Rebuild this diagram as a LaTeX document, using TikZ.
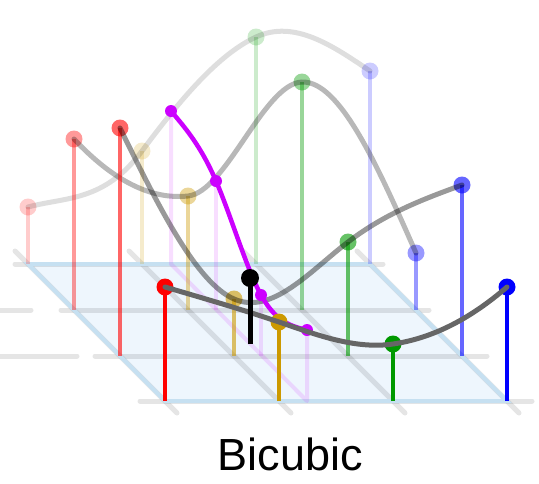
\documentclass[tikz,border=0pt]{standalone}
\usepackage{fontspec}
\setmainfont{Liberation Sans}
\definecolor{gridfill}{HTML}{EEF6FD}
\definecolor{gridedge}{HTML}{C6E0F1}
\definecolor{ptred}{HTML}{FF0000}
\definecolor{ptgold}{HTML}{CC9900}
\definecolor{ptgreen}{HTML}{009900}
\definecolor{ptblue}{HTML}{0000FF}
\definecolor{ptpurple}{HTML}{CC00FF}
\definecolor{curvegrey}{HTML}{666666}

\begin{document}
\begin{tikzpicture}[x=1pt,y=-1pt,
 gline/.style={line width=5pt,black,opacity=0.1,line cap=round},
 stem/.style={line width=4pt},
 dot/.style={circle,inner sep=0pt,minimum size=17pt},
 pdot/.style={circle,inner sep=0pt,minimum size=12pt,fill=ptpurple},
 spline/.style={line width=5pt,line cap=round,black},
 row0/.style={opacity=0.2},
 row1/.style={opacity=0.4},
 row2/.style={opacity=0.6}]
\useasboundingbox (0,0) rectangle (539,483);
% ground grid
\fill[gridfill] (28,264) -- (370,264) -- (507,401) -- (165,401) -- cycle;
\draw[gline] (15,264) -- (383,264);
\draw[gline] (0,310) -- (31,310) (61,310) -- (429,310);
\draw[gline] (0,356) -- (77,356) (95,356) -- (487,356);
\draw[gline] (140,401) -- (532,401);
\draw[gline] (15,251) -- (177,413);
\draw[gline] (129,251) -- (291,413);
\draw[gline] (243,251) -- (405,413);
\draw[gline] (357,251) -- (519,413);
\draw[gridedge,line width=4pt] (28,264) -- (370,264) -- (507,401) -- (165,401) -- cycle;
% column through the sample
\draw[stem,ptpurple,opacity=0.13,line join=round] (171,111) -- (171,264) -- (307,401) -- (307,330);
\draw[stem,ptpurple,opacity=0.13] (216,181) -- (216,310) (261,295) -- (261,356);
% back row
\draw[stem,row0,ptred] (28,264) -- (28,207);
\draw[stem,row0,ptgold] (142,264) -- (142,151);
\draw[stem,row0,ptgreen] (256,264) -- (256,37);
\draw[stem,row0,ptblue] (370,264) -- (370,71);
\node[dot,row0,fill=ptred] (a0) at (28,207) {};
\node[dot,row0,fill=ptgold] (a1) at (142,151) {};
\node[dot,row0,fill=ptgreen] (a2) at (256,37) {};
\node[dot,row0,fill=ptblue] (a3) at (370,71) {};
\draw[spline,opacity=0.13] (a0.center) .. controls (66,196.8) and (104,202) .. (a1.center)
 .. controls (180,100) and (218,54.6) .. (a2.center)
 .. controls (294,19.4) and (332,45.2) .. (a3.center);
% second row
\draw[stem,row1,ptred] (74,310) -- (74,139);
\draw[stem,row1,ptgold] (188,310) -- (188,196);
\draw[stem,row1,ptgreen] (302,310) -- (302,82);
\draw[stem,row1,ptblue] (416,310) -- (416,253);
\node[dot,row1,fill=ptred] (b0) at (74,139) {};
\node[dot,row1,fill=ptgold] (b1) at (188,196) {};
\node[dot,row1,fill=ptgreen] (b2) at (302,82) {};
\node[dot,row1,fill=ptblue] (b3) at (416,253) {};
\draw[spline,opacity=0.28] (b0.center) .. controls (112,179.5) and (150,200) .. (b1.center)
 .. controls (226,192) and (264,83.3) .. (b2.center)
 .. controls (340,80.7) and (378,166.9) .. (b3.center);
% third row
\draw[stem,row2,ptred] (120,356) -- (120,128);
\draw[stem,row2,ptgold] (234,356) -- (234,299);
\draw[stem,row2,ptgreen] (348,356) -- (348,242);
\draw[stem,row2,ptblue] (462,356) -- (462,185);
\node[dot,row2,fill=ptred] (c0) at (120,128) {};
\node[dot,row2,fill=ptgold] (c1) at (234,299) {};
\node[dot,row2,fill=ptgreen] (c2) at (348,242) {};
\node[dot,row2,fill=ptblue] (c3) at (462,185) {};
\draw[spline,opacity=0.4] (c0.center) .. controls (158,205.3) and (196,282.5) .. (c1.center)
 .. controls (272,315.5) and (310,271.1) .. (c2.center)
 .. controls (386,212.9) and (424,198.9) .. (c3.center);
% interpolated column
\node[pdot] (p0) at (171,111) {};
\node[pdot] (p1) at (216,181) {};
\node[pdot] (p2) at (261,295) {};
\node[pdot] (p3) at (307,330) {};
\draw[line width=4.5pt,ptpurple] (p0.center) .. controls (186,128.7) and (201,146.3) .. (p1.center)
 .. controls (231,215.7) and (246,267.3) .. (p2.center)
 .. controls (276.3,322.7) and (291.7,326.3) .. (p3.center);
% front row
\draw[stem,ptred] (165,401) -- (165,287);
\draw[stem,ptgold] (279,401) -- (279,322);
\draw[stem,ptgreen] (393,401) -- (393,344);
\draw[stem,ptblue] (507,401) -- (507,287);
\node[dot,fill=ptred] (d0) at (165,287) {};
\node[dot,fill=ptgold] (d1) at (279,322) {};
\node[dot,fill=ptgreen] (d2) at (393,344) {};
\node[dot,fill=ptblue] (d3) at (507,287) {};
\draw[spline,curvegrey] (d0.center) .. controls (203,298.1) and (241,309.1) .. (d1.center)
 .. controls (317,334.9) and (355,349.5) .. (d2.center)
 .. controls (431,338.5) and (469,320) .. (d3.center);
% sample
\coordinate (s0) at (250,344);
\node[dot,fill=black,minimum size=18pt] (s) at (250,278) {};
\draw[line width=5pt] (s0) -- (s.center);
\node[font=\fontsize{45}{54}\selectfont,anchor=base] (title) at (290.5,470) {Bicubic};
\end{tikzpicture}
\end{document}
